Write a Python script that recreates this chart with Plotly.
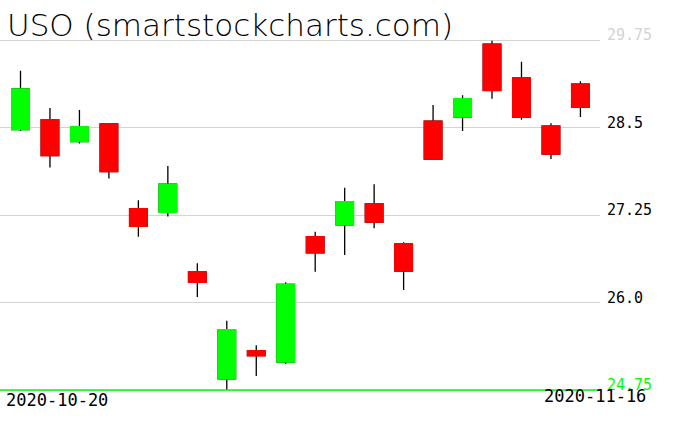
import plotly.graph_objects as go

# ---- data ----
dates = ["2020-10-20", "2020-10-21", "2020-10-22", "2020-10-23", "2020-10-26",
         "2020-10-27", "2020-10-28", "2020-10-29", "2020-10-30", "2020-11-02",
         "2020-11-03", "2020-11-04", "2020-11-05", "2020-11-06", "2020-11-09",
         "2020-11-10", "2020-11-11", "2020-11-12", "2020-11-13", "2020-11-16"]
opens = [28.47, 28.61, 28.30, 28.55, 27.34, 27.29, 26.44, 24.91, 25.31, 25.15,
         26.94, 27.11, 27.41, 26.84, 28.59, 28.65, 29.69, 29.21, 28.52, 29.12]
highs = [29.31, 28.78, 28.75, 28.56, 27.46, 27.95, 26.56, 25.74, 25.39, 26.29,
         27.01, 27.64, 27.69, 26.86, 28.82, 28.96, 29.74, 29.44, 28.56, 29.16]
lows = [28.45, 27.93, 28.27, 27.77, 26.94, 27.23, 26.08, 24.75, 24.95, 25.12,
        26.44, 26.68, 27.06, 26.18, 28.04, 28.45, 28.91, 28.61, 28.05, 28.65]
closes = [29.05, 28.10, 28.51, 27.87, 27.09, 27.69, 26.29, 25.61, 25.24, 26.26,
          26.71, 27.44, 27.15, 26.45, 28.05, 28.91, 29.03, 28.65, 28.12, 28.79]
y_ticks = [24.75, 26.0, 27.25, 28.5, 29.75]
y_tick_labels = ["24.75", "26.0", "27.25", "28.5", "29.75"]
title_text = "USO (smartstockcharts.com)"
first_date_label = dates[0]
last_date_label = dates[-1]

# ---- styles ----
UP = "#00ff00"
DOWN = "#ff0000"
GRID = "#d3d3d3"
label_colors = {"24.75": UP, "29.75": GRID}
MONO = "DejaVu Sans Mono"

x = list(range(len(dates)))
body_hi = [max(o, c) for o, c in zip(opens, closes)]
body_lo = [min(o, c) for o, c in zip(opens, closes)]

fig = go.Figure()
# full candles: black wicks
fig.add_trace(go.Candlestick(
    x=x, open=opens, high=highs, low=lows, close=closes,
    increasing=dict(line=dict(color="black", width=1.3), fillcolor=UP),
    decreasing=dict(line=dict(color="black", width=1.3), fillcolor=DOWN),
    whiskerwidth=0, hoverinfo="skip", showlegend=False))
# bodies drawn over, with borders in the fill colour
fig.add_trace(go.Candlestick(
    x=x, open=opens, high=body_hi, low=body_lo, close=closes,
    increasing=dict(line=dict(color=UP, width=1.5), fillcolor=UP),
    decreasing=dict(line=dict(color=DOWN, width=1.5), fillcolor=DOWN),
    whiskerwidth=0, hoverinfo="skip", showlegend=False))

W, H = 676, 431
plot_w = 600
step = 29.47
x0_px = 20.5
x_range = [-x0_px / step, (plot_w - x0_px) / step]
ppu = 70.0
top_px = 40.0
y_top = y_ticks[-1] + top_px / ppu
y_bot = y_ticks[-1] - (H - top_px) / ppu

fig.update_layout(
    width=W, height=H,
    margin=dict(l=0, r=W - plot_w, t=0, b=0),
    paper_bgcolor="white", plot_bgcolor="white",
    showlegend=False,
    boxgap=0.15,
    xaxis=dict(range=x_range, showgrid=False, showticklabels=False, zeroline=False,
               showline=False, ticks="", rangeslider=dict(visible=False), fixedrange=True),
    yaxis=dict(range=[y_bot, y_top], tickvals=y_ticks, showticklabels=False,
               showgrid=True, gridcolor=GRID, gridwidth=1, zeroline=False,
               showline=False, ticks="", fixedrange=True),
)

fig.add_shape(type="line", xref="paper", x0=0, x1=1, yref="y",
              y0=y_ticks[0], y1=y_ticks[0], line=dict(color=UP, width=1.5))

for v, lab in zip(y_ticks, y_tick_labels):
    fig.add_annotation(x=605 / plot_w, xref="paper", xanchor="left",
                       y=v, yref="y", yanchor="bottom", yshift=-6,
                       text=lab, showarrow=False,
                       font=dict(family=MONO, size=15, color=label_colors.get(lab, "black")))

fig.add_annotation(x=4 / plot_w, xref="paper", xanchor="left",
                   y=1 - 412 / H, yref="paper", yanchor="bottom",
                   text=first_date_label, showarrow=False,
                   font=dict(family=MONO, size=17, color="black"))
fig.add_annotation(x=648 / plot_w, xref="paper", xanchor="right",
                   y=1 - 408 / H, yref="paper", yanchor="bottom",
                   text=last_date_label, showarrow=False,
                   font=dict(family=MONO, size=17, color="black"))

fig.add_annotation(x=5 / plot_w, xref="paper", xanchor="left",
                   y=1, yref="paper", yanchor="top", yshift=-5,
                   text=title_text, showarrow=False,
                   font=dict(family="DejaVu Sans ExtraLight, DejaVu Sans", size=31,
                             color="black", weight=200))

fig.write_html("out.html", config=dict(displayModeBar=False, staticPlot=True),
               post_script="document.body.style.margin='0px';document.body.style.overflow='hidden';")
